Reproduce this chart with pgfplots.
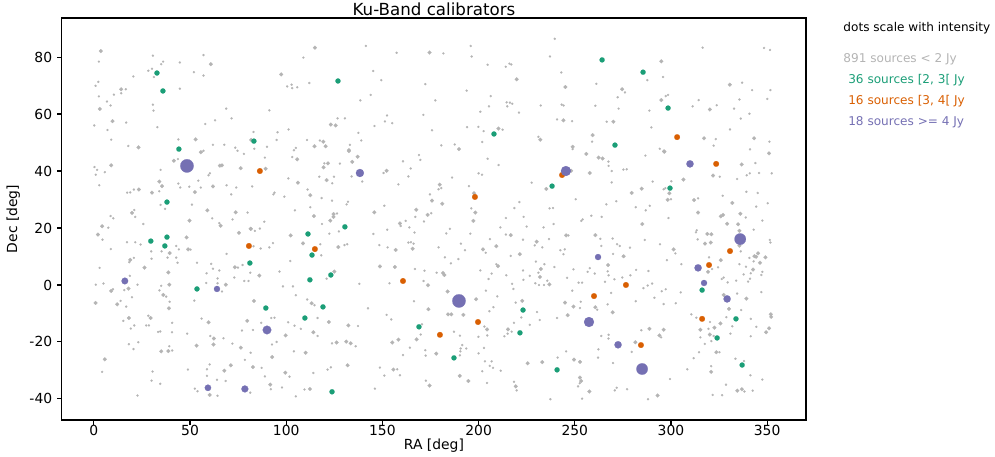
\documentclass[border=0pt]{standalone}
\usepackage{fontspec}
\setmainfont{DejaVu Sans}
\usepackage{pgfplots}
\pgfplotsset{compat=1.18}
\definecolor{kugrey}{HTML}{B4B4B4}
\definecolor{kugreen}{HTML}{1B9E77}
\definecolor{kuorange}{HTML}{D95F02}
\definecolor{kupurple}{HTML}{7570B3}

\pgfplotstableread{
ra dec s
16.1 1.4 2.4
48.4 41.8 4.8
64.0 -1.4 2.2
59.3 -36.1 2.3
78.5 -36.5 2.5
90.0 -15.8 3.1
138.3 39.3 2.9
189.8 -5.6 4.8
245.4 40.0 3.6
262.1 9.8 2.2
257.4 -13.0 3.6
272.5 -21.0 2.6
285.0 -29.5 4.1
309.9 42.5 2.6
336.0 16.1 4.1
314.1 6.0 2.6
317.2 0.7 2.2
329.2 -4.9 2.6
}\purpledata

\begin{document}
\begin{tikzpicture}
\begin{axis}[
  scale only axis,
  width=535.7pt, height=289.4pt,
  xmin=-16.6, xmax=370.2, ymin=-47.4, ymax=93.7,
  xtick={0,50,...,350}, ytick={-40,-20,...,80},
  tick align=outside, major tick length=3.5pt,
  xtick pos=bottom, ytick pos=left,
  axis line style={line width=0.8pt},
  every tick/.style={black, line width=0.8pt},
  tick label style={font=\fontsize{10}{12}\selectfont},
  xticklabel style={yshift=3pt},
  label style={font=\fontsize{10}{12}\selectfont},
  xlabel style={yshift=5pt},
  /pgf/number format/assume math mode=true,
  xlabel={RA [deg]}, ylabel={Dec [deg]},
  title={Ku-Band calibrators},
  title style={font=\fontsize{12}{14}\selectfont, yshift=-8pt},
  clip=false,
]
% faint sources, small dots
\addplot[only marks, mark=*, color=kugrey, mark size=0.8pt, mark options={line width=0.1pt}] coordinates {
(2.6,78.4) (30.7,80.5) (57.0,80.7) (44.7,78.1) (35.0,77.5) (36.0,78.4) (30.2,75.9) (28.3,75.2) (31.2,73.0) (20.5,73.2) (52.0,74.7) (57.0,73.5) (2.3,71.3) (0.9,69.9) (16.6,68.7) (14.2,67.3) (10.4,66.8) (2.6,66.2) (6.8,64.4) (8.7,63.0) (30.7,63.3) (31.0,61.2) (44.7,68.9) (68.8,61.9) (71.6,58.5) (63.0,57.8) (57.9,56.5) (16.8,57.0) (0.2,56.0) (7.1,54.4) (33.0,55.4) (9.0,51.0) (17.9,48.8) (43.9,51.1) (61.9,49.2) (67.8,49.2) (73.5,48.2) (74.7,47.1) (78.0,46.0) (57.0,47.1)
(141.4,83.9) (157.4,81.5) (108.9,79.8) (145.2,75.1) (149.4,71.9) (112.0,70.9) (100.5,69.7) (102.8,70.3) (103.1,69.1) (105.7,69.4) (172.3,70.5) (177.5,64.8) (143.9,66.7) (138.5,64.8) (91.2,61.3) (152.4,59.5) (151.3,57.4) (155.1,56.8) (171.3,59.7) (175.8,54.3) (126.7,58.5) (130.5,58.5) (145.9,55.8) (101.2,54.6) (83.0,53.7) (95.5,53.6) (95.0,50.9) (137.5,53.4) (139.0,50.7) (110.8,50.9) (117.5,50.7) (105.0,48.1) (104.0,47.3) (133.1,49.2) (90.0,48.5) (83.4,47.8)
(239.6,86.4) (195.9,83.9) (181.7,81.3) (196.4,80.2) (237.1,80.2) (204.7,77.3) (214.1,76.6) (216.0,77.7) (217.0,77.4) (243.0,74.6) (261.2,70.6) (272.3,65.9) (193.8,68.2) (206.3,66.3) (214.6,64.1) (216.3,64.0) (217.5,63.6) (205.4,62.7) (214.9,62.7) (200.9,60.8) (221.0,60.5) (232.3,63.0) (243.2,63.3) (244.2,63.0) (260.7,62.9) (272.8,61.9) (240.8,58.1) (248.6,57.5) (266.6,57.3) (194.0,55.4) (199.9,55.5) (202.6,54.0) (212.5,54.5) (231.1,52.0) (259.0,50.3) (201.9,50.2) (187.6,49.3) (180.6,49.0) (248.9,47.7)
(316.5,83.3) (348.4,83.2) (351.5,82.5) (287.7,71.9) (295.9,73.0) (276.1,67.6) (337.0,71.0) (342.2,68.4) (351.7,68.4) (297.3,66.3) (298.5,66.7) (314.4,64.9) (311.3,62.7) (323.8,63.1) (332.8,61.9) (335.6,65.1) (350.1,65.3) (340.8,60.1) (336.3,58.4) (288.8,61.2) (289.8,55.3) (330.7,54.6) (323.3,51.2) (322.2,48.9) (351.2,50.3) (341.1,47.6) (351.0,46.3) (294.2,47.8)
(0.3,41.4) (1.7,40.4) (1.0,38.7) (5.7,39.6) (2.8,35.0) (34.7,40.4) (43.7,44.2) (56.0,46.7) (60.3,39.2) (59.6,38.5) (54.3,36.6) (43.9,35.6) (44.9,34.2) (49.6,34.5) (55.6,34.2) (69.0,35.0) (74.0,34.2) (71.4,31.8) (34.0,32.9) (20.8,33.5) (18.9,32.5) (17.3,32.4) (34.7,28.1) (37.0,26.7) (51.0,28.2) (79.9,25.4) (21.0,26.3) (21.5,23.9) (8.7,24.2) (10.1,23.4) (61.5,23.4) (65.2,21.7) (72.1,23.0) (25.7,21.4) (7.5,20.1) (4.5,15.9) (17.2,15.0) (21.5,15.0) (24.3,14.2) (8.8,12.6) (42.8,13.7) (44.2,12.5) (50.3,12.4) (29.8,11.8) (35.2,11.8) (30.0,9.2) (38.3,9.6) (42.8,9.6) (43.5,7.8) (53.6,7.8) (20.8,9.5) (18.4,8.0) (69.0,10.9) (3.0,6.0) (61.0,7.4) (61.9,5.7) (65.2,5.1) (74.9,6.1) (77.3,7.0) (73.0,2.6) (78.2,1.4) (80.4,1.4) (58.6,4.1) (64.3,2.3) (64.3,0.6) (18.7,3.2) (1.0,0.1) (5.0,0.5) (22.7,0.1) (35.0,-0.3)
(88.9,44.7) (103.1,44.9) (119.8,42.7) (127.9,42.6) (134.0,38.1) (139.5,36.3) (117.2,38.0) (124.8,38.0) (123.9,35.7) (101.1,37.4) (82.3,34.6) (160.7,43.4) (164.7,40.9) (169.0,45.6) (169.7,43.9) (150.6,39.3) (163.5,38.1) (158.3,35.3) (174.7,31.8) (111.1,33.5) (118.4,30.5) (123.8,29.6) (132.1,29.2) (131.4,28.3) (93.3,31.8) (93.9,32.4) (99.0,31.0) (104.5,26.2) (112.5,27.3) (126.4,25.1) (118.6,21.4) (151.0,27.8) (167.1,23.9) (175.4,25.2) (171.6,22.3) (159.5,20.7) (162.1,22.5) (164.0,20.2) (166.7,18.4) (88.6,22.2) (83.7,19.0) (86.3,19.8) (93.1,14.7) (91.2,13.2) (86.7,12.8) (83.0,13.6) (122.4,18.0) (127.4,18.8) (117.7,14.3) (130.3,14.0) (131.7,14.3) (118.2,10.4) (145.3,17.9) (152.5,19.4) (148.4,14.0) (152.7,13.2) (163.5,14.9) (164.8,15.0) (166.2,14.5) (178.2,4.3) (166.9,5.6) (171.9,5.0) (102.1,8.4) (96.5,4.7) (81.3,4.3) (121.0,2.2) (138.0,0.4) (153.7,0.6) (171.4,1.4) (98.3,-0.5) (103.5,-0.5)
(204.7,44.3) (210.4,42.1) (267.5,43.3) (267.6,41.8) (269.2,40.0) (200.0,39.2) (201.8,38.7) (186.2,37.7) (180.6,34.0) (179.2,33.6) (195.0,34.7) (227.6,35.9) (269.2,36.0) (196.2,26.9) (221.2,29.1) (218.6,27.0) (236.9,26.9) (238.7,27.0) (250.5,30.1) (266.4,28.3) (271.6,29.4) (214.2,23.5) (223.4,23.9) (239.0,21.4) (253.4,22.5) (254.1,23.0) (258.6,24.3) (264.0,23.9) (185.1,19.7) (183.2,18.1) (211.3,20.2) (225.0,20.5) (233.8,20.2) (195.7,18.0) (214.2,17.7) (246.7,17.4) (263.3,16.2) (269.7,16.3) (205.9,16.1) (223.1,15.9) (236.6,16.1) (229.2,13.9) (190.8,14.5) (179.2,13.2) (192.9,12.2) (203.7,11.3) (233.1,13.2) (242.5,12.2) (244.8,12.5) (244.1,10.8) (263.8,13.7) (272.0,14.3) (273.4,13.7) (275.1,10.1) (269.9,10.9) (216.7,10.2) (182.5,9.7) (189.5,9.1) (185.6,7.6) (209.2,7.3) (229.8,8.2) (239.4,6.3) (234.2,7.3) (200.9,5.1) (206.8,4.0) (214.4,3.4) (223.1,5.1) (226.6,3.2) (231.1,4.3) (235.7,1.5) (229.5,0.6) (234.0,0.0) (231.4,0.0) (205.2,2.1) (217.4,0.4) (223.3,1.8) (246.0,2.5) (249.3,5.5) (256.7,4.6) (257.8,5.9) (260.4,4.0) (267.1,4.8) (267.6,3.4) (252.0,0.8) (253.8,0.8) (265.7,1.1) (270.6,2.0) (274.7,2.6)
(286.7,45.4) (343.9,42.8) (275.3,40.5) (277.0,40.6) (290.5,36.3) (300.2,36.4) (296.2,33.6) (297.1,34.0) (300.0,30.1) (325.4,38.0) (334.4,37.2) (339.4,38.5) (341.0,39.2) (345.8,39.3) (352.4,39.2) (339.2,32.7) (345.1,32.3) (314.1,30.4) (326.9,31.3) (350.3,28.7) (344.3,27.5) (281.7,27.3) (286.9,26.2) (289.0,27.8) (338.9,23.7) (298.7,23.5) (347.5,22.6) (313.4,19.2) (313.0,18.5) (343.0,19.4) (313.9,16.0) (351.4,15.8) (351.7,14.9) (286.4,15.8) (294.3,14.3) (302.3,11.1) (278.7,13.1) (319.8,9.7) (335.6,7.3) (336.3,11.8) (340.8,9.5) (343.0,8.3) (297.9,8.7) (305.4,7.3) (324.5,6.2) (321.4,5.6) (339.0,6.4) (341.5,4.1) (337.8,3.7) (347.5,4.6) (347.0,3.5) (281.9,5.3) (288.3,4.9) (278.9,3.4) (326.4,2.1) (327.4,2.6) (329.5,0.9) (333.9,1.5) (340.1,1.2) (341.1,2.2) (287.9,-0.2) (290.2,0.5)
(9.9,-1.5) (15.8,-1.8) (13.9,-5.6) (16.8,-7.6) (19.8,-4.3) (34.1,-1.9) (37.6,-4.1) (39.4,-5.9) (52.2,-5.5) (58.4,0.7) (66.6,-2.3) (15.3,-12.6) (21.0,-14.2) (19.2,-15.3) (28.3,-10.8) (27.2,-14.2) (28.6,-14.2) (40.7,-13.3) (33.4,-16.5) (34.5,-16.3) (40.6,-16.6) (48.5,-17.1) (56.0,-11.8) (60.5,-17.9) (67.4,-18.7) (72.0,-20.6) (77.0,-16.0) (18.2,-20.8) (23.1,-20.1) (20.6,-22.5) (4.3,-30.5) (40.7,-23.0) (39.2,-21.5) (78.5,-26.3) (60.2,-27.9) (58.8,-29.6) (58.8,-31.9) (64.0,-33.3) (68.5,-33.7) (48.9,-29.7) (30.5,-30.4) (30.0,-33.6) (34.5,-34.7) (52.5,-36.4) (53.9,-37.3) (64.3,-38.9) (22.7,-38.8) (81.3,-37.8)
(105.0,-3.6) (110.9,-5.1) (114.7,-7.1) (92.2,-11.6) (93.9,-11.5) (87.0,-13.3) (82.7,-15.8) (101.0,-13.1) (104.3,-14.3) (107.6,-15.4) (116.3,-11.6) (116.3,-17.9) (137.3,-14.4) (142.5,-8.2) (152.2,-10.5) (154.6,-12.1) (166.4,-5.7) (170.6,-13.8) (169.9,-17.4) (164.3,-22.0) (160.7,-24.6) (172.3,-22.9) (172.5,-24.8) (92.6,-20.9) (95.0,-20.0) (104.0,-23.3) (81.5,-23.8) (123.8,-20.5) (136.1,-21.5) (87.2,-29.1) (88.9,-32.1) (101.7,-32.2) (114.1,-30.9) (121.5,-29.7) (123.2,-28.9) (92.0,-36.6) (97.8,-36.0) (109.5,-36.7) (105.0,-39.1) (146.1,-36.4) (148.7,-29.0) (151.0,-31.8) (157.7,-29.6) (159.1,-31.7) (172.6,-33.6)
(203.8,-2.0) (209.7,-4.0) (218.1,-1.4) (248.7,-2.0) (268.9,-2.8) (205.6,-9.2) (207.7,-7.8) (219.3,-6.2) (222.2,-11.4) (230.4,-9.5) (231.8,-12.3) (226.6,-14.0) (218.4,-13.3) (217.2,-16.4) (215.1,-17.1) (213.4,-18.0) (203.0,-14.6) (204.5,-17.7) (199.9,-18.2) (190.3,-17.8) (187.2,-16.4) (240.8,-11.6) (252.7,-8.1) (253.1,-5.9) (261.7,-8.7) (267.1,-6.8) (263.8,-17.9) (267.6,-17.5) (267.5,-18.8) (262.3,-22.6) (269.9,-27.4) (262.1,-25.5) (245.5,-23.3) (241.1,-25.5) (191.5,-21.1) (193.6,-22.3) (190.7,-22.3) (190.5,-23.3) (190.3,-24.7) (200.0,-24.0) (202.8,-22.1) (203.3,-26.8) (206.8,-26.8) (205.8,-28.4) (207.5,-29.1) (201.9,-30.3) (211.5,-30.1) (204.4,-34.4) (218.4,-34.0) (219.8,-37.0) (252.6,-34.5) (251.7,-35.6) (270.8,-37.0) (271.8,-36.1) (237.3,-40.1) (253.8,-39.9)
(285.7,-1.1) (295.2,-2.2) (297.3,-1.5) (305.1,-2.6) (281.7,-5.7) (291.4,-4.5) (296.2,-6.7) (302.5,-6.4) (334.4,-3.0) (347.0,-2.5) (336.5,-8.8) (310.6,-10.3) (313.2,-11.5) (320.3,-13.0) (328.8,-11.3) (331.9,-14.5) (341.5,-11.9) (344.4,-14.7) (319.5,-15.4) (322.2,-17.9) (330.9,-17.1) (341.5,-18.0) (315.3,-18.4) (321.0,-19.7) (317.6,-20.7) (294.9,-18.4) (284.6,-15.9) (279.6,-23.5) (314.6,-23.6) (311.8,-25.7) (325.2,-23.6) (333.5,-25.9) (338.0,-26.7) (320.9,-28.5) (308.5,-29.6) (299.5,-33.0) (341.3,-31.7) (347.5,-33.2) (328.6,-35.0) (338.2,-37.4) (342.5,-37.1) (277.2,-36.6) (288.1,-40.1) (321.7,-38.6) (326.6,-38.7)
};
% faint sources, larger dots
\addplot[only marks, mark=*, color=kugrey, mark size=1.4pt, mark options={line width=0.1pt}] coordinates {
(3.6,82.1) (60.8,77.5) (14.2,68.7) (3.1,61.8) (9.7,57.5) (23.2,48.3) (52.9,51.1) (55.6,46.6) (81.8,50.9)
(114.9,83.3) (174.5,81.6) (97.4,73.9) (123.2,56.3) (125.7,56.0) (119.3,50.3) (114.7,48.7) (120.5,48.7) (132.6,47.3)
(219.8,72.2) (245.1,69.5) (274.6,68.7) (244.1,57.8) (270.1,57.3) (210.3,54.9) (232.1,51.0) (259.3,52.6) (189.8,47.7) (248.9,48.5) (256.0,46.0)
(295.0,78.5) (330.6,70.3) (295.0,64.9) (320.2,61.6) (317.2,51.5) (343.2,51.5) (296.4,46.9)
(9.0,42.0) (41.6,43.6) (65.5,41.9) (66.6,42.0) (76.3,41.0) (34.0,36.3) (35.4,34.7) (61.9,34.6) (52.5,32.6) (30.2,32.4) (23.4,33.5) (59.0,26.2) (73.7,25.5) (81.5,19.7) (19.8,25.3) (49.7,22.6) (65.9,20.8) (4.3,20.6) (2.1,17.7) (48.2,16.7) (49.0,12.5) (39.4,11.2) (18.9,8.8) (75.4,18.3) (26.3,6.1) (38.7,4.4) (73.3,6.2) (68.6,0.1) (39.2,0.1)
(105.7,44.1) (89.3,40.8) (119.4,41.3) (121.7,42.7) (132.6,47.0) (137.1,45.0) (134.3,43.2) (121.0,36.8) (106.1,35.9) (152.2,40.1) (175.8,29.6) (112.5,31.5) (114.4,24.2) (124.6,24.9) (124.6,23.9) (122.9,22.6) (145.8,25.5) (167.6,26.4) (173.5,24.6) (159.1,21.6) (81.6,19.7) (102.3,17.4) (108.7,14.6) (127.1,13.3) (156.9,12.3) (165.7,12.7) (148.7,6.5) (156.5,6.3) (86.0,3.3) (125.0,4.7) (173.7,-0.1)
(262.4,44.7) (264.5,44.4) (257.8,39.3) (248.1,40.1) (179.8,35.2) (197.6,32.2) (235.2,33.7) (181.1,28.5) (198.3,25.4) (197.3,22.5) (216.7,17.5) (245.5,17.4) (260.7,17.5) (230.2,15.2) (209.2,13.6) (202.3,12.5) (221.4,10.8) (210.1,6.6) (232.4,5.6) (231.9,2.8) (236.8,0.2) (181.5,4.2) (182.2,3.5) (267.3,7.0)
(296.6,46.8) (351.0,46.2) (336.8,42.3) (306.5,37.0) (299.2,32.2) (298.3,29.9) (321.9,38.4) (284.8,33.8) (279.6,32.3) (312.0,29.8) (331.9,28.8) (314.1,25.4) (325.9,24.1) (327.1,24.6) (336.1,25.0) (329.2,21.5) (334.9,21.3) (285.1,21.4) (318.9,17.9) (321.0,17.8) (335.6,19.0) (317.7,14.5) (320.7,14.9) (335.6,13.8) (301.4,12.5) (275.4,10.1) (325.9,8.7) (343.4,10.1) (344.3,9.9) (345.3,11.1) (349.1,9.7) (346.3,7.8) (342.7,5.4) (319.3,4.6)
(9.0,-2.1) (18.0,-1.3) (0.9,-6.3) (12.1,-6.8) (36.1,-3.5) (39.0,-8.2) (18.2,-11.6) (29.5,-11.6) (59.6,-13.1) (62.4,-18.8) (62.2,-20.9) (76.4,-22.0) (79.7,-12.6) (5.7,-26.1) (35.0,-23.3) (38.7,-23.2) (53.4,-21.3) (71.2,-28.2) (67.8,-30.1) (60.2,-38.6)
(83.2,-5.6) (113.2,-6.4) (122.2,-13.0) (114.1,-16.6) (99.7,-17.7) (132.3,-14.2) (173.9,-8.5) (167.8,-19.1) (158.3,-19.2) (155.1,-20.2) (178.0,-24.1) (110.1,-23.8) (92.7,-25.3) (126.2,-20.2) (131.2,-19.9) (133.5,-20.5) (82.7,-28.8) (99.5,-30.8) (131.9,-28.2) (91.7,-35.0) (112.3,-36.5) (155.7,-29.7) (174.5,-35.3)
(183.9,-2.3) (198.7,-5.0) (222.7,-5.6) (215.3,-15.6) (204.4,-15.6) (184.1,-10.3) (185.8,-10.3) (192.1,-10.5) (246.3,-10.6) (244.9,-6.2) (249.3,-7.6) (260.7,-7.8) (269.7,-9.6) (249.6,-26.2) (252.7,-27.0) (233.1,-27.1) (225.5,-27.5) (190.2,-31.9) (194.7,-33.7) (219.3,-35.6) (252.7,-32.5) (253.3,-33.7) (257.6,-37.4)
(327.4,-3.5) (339.2,-4.8) (330.2,-8.4) (325.7,-13.5) (351.0,-15.2) (349.5,-16.6) (351.9,-10.3) (352.1,-11.2) (315.3,-15.7) (322.6,-15.0) (320.2,-17.4) (288.8,-15.4) (296.2,-15.7) (294.0,-17.7) (281.5,-20.1) (323.6,-23.6) (320.9,-30.5) (334.5,-37.1) (336.9,-36.6) (293.1,-38.8)
};
% [2, 3[ Jy
\addplot[only marks, mark=*, color=kugreen, mark size=1.85pt, mark options={line width=0.1pt}] coordinates {
(32.8,74.4) (35.9,68.1) (44.2,47.7) (38.0,29.1) (83.2,50.5) (126.9,71.6) (208.0,53.0) (264.2,79.0) (285.5,74.7) (298.5,62.1) (270.9,49.1) (238.2,34.7) (299.5,34.0) (29.6,15.4) (38.0,16.8) (36.9,13.7) (81.1,7.7) (53.6,-1.4) (89.4,-8.1) (111.3,17.9) (113.4,10.5) (130.5,20.4) (123.2,3.5) (112.3,1.8) (119.1,-7.7) (109.7,-11.6) (123.8,-37.5) (169.0,-14.7) (187.2,-25.6) (223.1,-8.8) (221.5,-16.8) (240.8,-29.8) (316.2,-1.8) (333.8,-11.9) (324.0,-18.6) (337.0,-28.1)
};
% [3, 4[ Jy
\addplot[only marks, mark=*, color=kuorange, mark size=2.05pt, mark options={line width=0.1pt}] coordinates {
(86.3,40.0) (80.6,13.7) (114.9,12.6) (160.7,1.4) (198.1,30.9) (243.4,38.6) (179.9,-17.5) (199.7,-13.0) (260.0,-3.9) (276.6,0.0) (284.4,-21.1) (303.2,51.9) (323.5,42.5) (330.7,11.9) (319.8,7.0) (316.2,-11.9)
};
% >= 4 Jy, size per source
\addplot[scatter, only marks, mark=*,
  scatter/use mapped color={draw=kupurple, fill=kupurple, line width=0.1pt},
  visualization depends on={\thisrow{s} \as \msize},
  scatter/@pre marker code/.append style={/tikz/mark size=\msize}
] table[x=ra, y=dec] {\purpledata};

\node[anchor=west, inner sep=0pt, font=\fontsize{8.7}{10}\selectfont] at (rel axis cs:1.050,0.975) {dots scale with intensity};
\node[anchor=west, inner sep=0pt, text=kugrey, font=\fontsize{8.7}{10}\selectfont] at (rel axis cs:1.050,0.898) {891 sources < 2 Jy};
\node[anchor=west, inner sep=0pt, text=kugreen, font=\fontsize{8.7}{10}\selectfont] at (rel axis cs:1.0565,0.846) {36 sources [2, 3[ Jy};
\node[anchor=west, inner sep=0pt, text=kuorange, font=\fontsize{8.7}{10}\selectfont] at (rel axis cs:1.0565,0.793) {16 sources [3, 4[ Jy};
\node[anchor=west, inner sep=0pt, text=kupurple, font=\fontsize{8.7}{10}\selectfont] at (rel axis cs:1.0565,0.741) {18 sources >= 4 Jy};
\end{axis}
\pgfresetboundingbox
\useasboundingbox (-44.6pt,-26.6pt) rectangle (671.8pt,302.4pt);
\end{tikzpicture}
\end{document}
